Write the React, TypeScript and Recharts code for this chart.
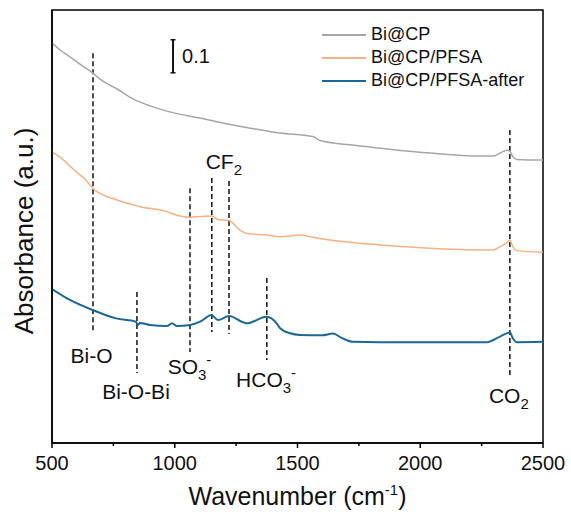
import React from "react";
import {
  LineChart,
  Line,
  XAxis,
  YAxis,
  ReferenceLine,
  ReferenceDot,
  ReferenceArea,
  Legend,
} from "recharts";

const FONT = "'Liberation Sans', Arial, sans-serif";

// Bi@CP
const grayWn = [500, 533, 573, 614, 667, 696, 765, 830, 899, 968, 1103, 1237, 1376, 1429, 1563, 1592, 1714, 1836, 2040, 2243, 2296, 2325, 2353, 2365, 2377, 2394, 2500];
const grayAbs = [1.21, 1.189, 1.168, 1.146, 1.119, 1.101, 1.071, 1.041, 1.02, 1.004, 0.983, 0.962, 0.944, 0.938, 0.927, 0.915, 0.902, 0.892, 0.877, 0.868, 0.868, 0.877, 0.886, 0.883, 0.866, 0.858, 0.856];

// Bi@CP/PFSA
const orangeWn = [500, 533, 561, 614, 631, 667, 765, 859, 968, 993, 1062, 1103, 1152, 1172, 1221, 1266, 1294, 1376, 1429, 1510, 1551, 1632, 1836, 2040, 2243, 2296, 2325, 2353, 2365, 2377, 2394, 2500];
const orangeAbs = [0.881, 0.865, 0.846, 0.811, 0.801, 0.77, 0.735, 0.715, 0.7, 0.693, 0.683, 0.685, 0.687, 0.677, 0.673, 0.644, 0.634, 0.629, 0.624, 0.629, 0.624, 0.614, 0.599, 0.589, 0.584, 0.584, 0.594, 0.606, 0.614, 0.594, 0.582, 0.577];

// Bi@CP/PFSA-after
const blueWn = [500, 573, 667, 761, 842, 850, 858, 899, 968, 989, 1009, 1062, 1103, 1150, 1176, 1221, 1293, 1374, 1415, 1429, 1469, 1510, 1600, 1645, 1680, 1726, 1836, 2272, 2325, 2365, 2377, 2394, 2500];
const blueAbs = [0.466, 0.433, 0.402, 0.377, 0.367, 0.357, 0.363, 0.357, 0.354, 0.362, 0.354, 0.357, 0.367, 0.387, 0.372, 0.384, 0.362, 0.382, 0.362, 0.347, 0.332, 0.327, 0.326, 0.331, 0.318, 0.306, 0.305, 0.305, 0.322, 0.334, 0.317, 0.305, 0.306];

const seriesNames = ["Bi@CP", "Bi@CP/PFSA", "Bi@CP/PFSA-after"];
const seriesColors = ["#a6a6a6", "#f4b183", "#1b6896"];
const seriesWidths = [1.5, 1.5, 2];

const xTicks = [500, 750, 1000, 1250, 1500, 1750, 2000, 2250, 2500];
const majorTicks = [500, 1000, 1500, 2000, 2500];

// dashed peak markers
const markerWn = [667, 846, 1062, 1151, 1221, 1375, 2365];
const markerTop = [1.179, 0.457, 0.771, 0.802, 0.793, 0.499, 0.947];
const markerBottom = [0.336, 0.212, 0.275, 0.336, 0.33, 0.251, 0.2];

// peak labels
const labelWn = [661, 842, 1060, 1200, 1372, 2361];
const labelAbs = [0.265, 0.157, 0.23, 0.852, 0.191, 0.145];
const labelMain = ["Bi-O", "Bi-O-Bi", "SO", "CF", "HCO", "CO"];
const labelSub = ["", "", "3", "2", "3", "2"];
const labelSup = ["", "", "-", "", "-", ""];

// 0.1 scale bar
const scaleWn = 993;
const scaleLow = 1.12;
const scaleHigh = 1.22;
const scaleText = "0.1";

const zip = (wn: number[], abs: number[]) => wn.map((w, i) => ({ wn: w, abs: abs[i] }));
const seriesData = [zip(grayWn, grayAbs), zip(orangeWn, orangeAbs), zip(blueWn, blueAbs)];

function XTick(props: any) {
  const { x, y, payload } = props;
  const major = majorTicks.includes(payload.value);
  return (
    <g>
      <line x1={x} x2={x} y1={y} y2={y + (major ? 5 : 3)} stroke="#000" strokeWidth={1.5} />
      {major && (
        <text x={x} y={y + 27} textAnchor="middle" fontFamily={FONT} fontSize={20} fill="#111">
          {payload.value}
        </text>
      )}
    </g>
  );
}

function renderLegend() {
  return (
    <div style={{ fontFamily: FONT, fontSize: 18, color: "#111" }}>
      {seriesNames.map((name, i) => (
        <div key={name} style={{ display: "flex", alignItems: "center", height: 23 }}>
          <span
            style={{ display: "inline-block", width: 44, borderTop: `2px solid ${seriesColors[i]}`, marginRight: 5 }}
          />
          <span>{name}</span>
        </div>
      ))}
    </div>
  );
}

export default function App() {
  return (
    <div style={{ position: "absolute", left: 0, top: 0, background: "#fff" }}>
      <LineChart width={571} height={520} margin={{ top: 10, right: 28, left: 0, bottom: 0 }}>
        <XAxis
          dataKey="wn"
          type="number"
          domain={[500, 2500]}
          ticks={xTicks}
          interval={0}
          allowDataOverflow
          height={77}
          tickLine={false}
          tickSize={0}
          tickMargin={0}
          tick={<XTick />}
          axisLine={{ stroke: "#000", strokeWidth: 1.5 }}
          label={{
            content: (p: any) => {
              const vb = p.viewBox;
              return (
                <text x={vb.x + vb.width / 2} y={vb.y + 62} textAnchor="middle" fontFamily={FONT} fontSize={25} fill="#111">
                  Wavenumber (cm
                  <tspan dy={-10} fontSize={15}>-1</tspan>
                  <tspan dy={10}>)</tspan>
                </text>
              );
            },
          }}
        />
        <YAxis
          type="number"
          domain={[0, 1.31]}
          allowDataOverflow
          width={52}
          tick={false}
          tickLine={false}
          axisLine={{ stroke: "#000", strokeWidth: 1.5 }}
          label={{
            content: () => (
              <text
                x={33}
                y={231}
                transform="rotate(-90, 33, 231)"
                textAnchor="middle"
                fontFamily={FONT}
                fontSize={26}
                fill="#111"
              >
                Absorbance (a.u.)
              </text>
            ),
          }}
        />
        <ReferenceArea x1={500} x2={2500} y1={0} y2={1.31} fill="none" stroke="#000" strokeWidth={1.5} />
        {markerWn.map((w, i) => (
          <ReferenceLine
            key={`m${i}`}
            segment={[
              { x: w, y: markerTop[i] },
              { x: w, y: markerBottom[i] },
            ]}
            stroke="#111"
            strokeWidth={1.5}
            strokeDasharray="5 3"
          />
        ))}
        <ReferenceLine
          segment={[
            { x: scaleWn, y: scaleLow },
            { x: scaleWn, y: scaleHigh },
          ]}
          stroke="#111"
          strokeWidth={2}
        />
        <ReferenceLine
          segment={[
            { x: scaleWn - 10, y: scaleLow },
            { x: scaleWn + 10, y: scaleLow },
          ]}
          stroke="#111"
          strokeWidth={1.5}
        />
        <ReferenceLine
          segment={[
            { x: scaleWn - 10, y: scaleHigh },
            { x: scaleWn + 10, y: scaleHigh },
          ]}
          stroke="#111"
          strokeWidth={1.5}
        />
        <ReferenceDot
          x={scaleWn + 37}
          y={(scaleLow + scaleHigh) / 2}
          r={0}
          fill="none"
          stroke="none"
          label={{
            content: (p: any) => (
              <text x={p.viewBox.x} y={p.viewBox.y + 7} fontFamily={FONT} fontSize={20} fill="#111">
                {scaleText}
              </text>
            ),
          }}
        />
        {labelWn.map((w, i) => (
          <ReferenceDot
            key={`l${i}`}
            x={w}
            y={labelAbs[i]}
            r={0}
            fill="none"
            stroke="none"
            label={{
              content: (p: any) => (
                <text
                  x={p.viewBox.x}
                  y={p.viewBox.y + 7.5}
                  textAnchor="middle"
                  fontFamily={FONT}
                  fontSize={21}
                  fill="#111"
                >
                  {labelMain[i]}
                  {labelSub[i] && (
                    <tspan dy={6} fontSize={15}>
                      {labelSub[i]}
                    </tspan>
                  )}
                  {labelSup[i] && (
                    <tspan dy={-15} fontSize={15}>
                      {labelSup[i]}
                    </tspan>
                  )}
                </text>
              ),
            }}
          />
        ))}
        {seriesData.map((d, i) => (
          <Line
            key={seriesNames[i]}
            data={d}
            dataKey="abs"
            name={seriesNames[i]}
            type="monotone"
            stroke={seriesColors[i]}
            strokeWidth={seriesWidths[i]}
            dot={false}
            activeDot={false}
            isAnimationActive={false}
          />
        ))}
        <Legend
          layout="horizontal"
          verticalAlign="middle"
          align="center"
          content={renderLegend}
          wrapperStyle={{ top: 23, left: 322, width: 240 }}
        />
      </LineChart>
    </div>
  );
}
